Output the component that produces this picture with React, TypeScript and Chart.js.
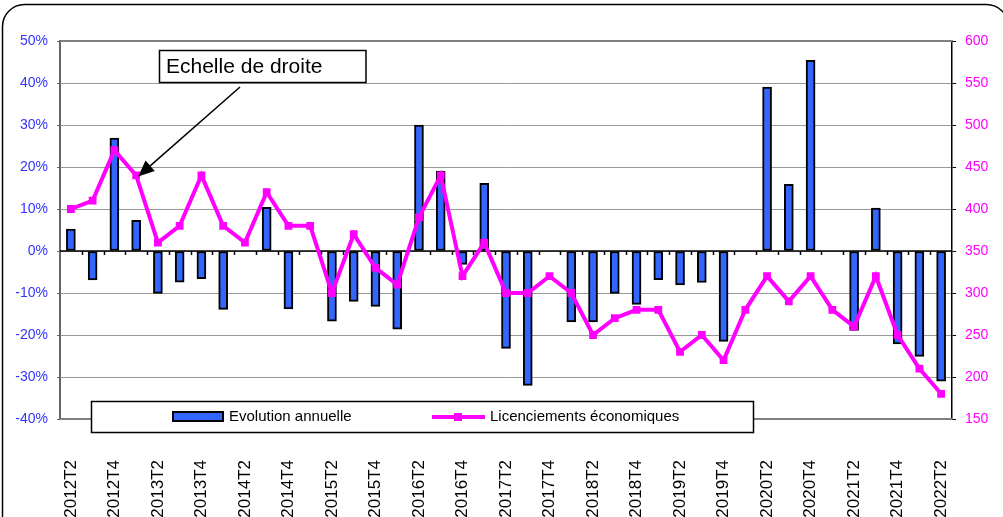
import { useEffect, useRef } from 'react';
import { Chart, registerables } from 'chart.js';

Chart.register(...registerables);

const categories = [
  '2012T2', '2012T3', '2012T4', '2013T1', '2013T2', '2013T3', '2013T4', '2014T1',
  '2014T2', '2014T3', '2014T4', '2015T1', '2015T2', '2015T3', '2015T4', '2016T1',
  '2016T2', '2016T3', '2016T4', '2017T1', '2017T2', '2017T3', '2017T4', '2018T1',
  '2018T2', '2018T3', '2018T4', '2019T1', '2019T2', '2019T3', '2019T4', '2020T1',
  '2020T2', '2020T3', '2020T4', '2021T1', '2021T2', '2021T3', '2021T4', '2022T1',
  '2022T2',
];

// Evolution annuelle (%), left axis
const evolutionAnnuelle = [
  5.2, -6.9, 26.9, 7.3, -10.1, -7.4, -6.6, -13.9,
  0, 10.4, -13.8, 0, -16.7, -12.0, -13.2, -18.6,
  30.0, 19.0, -3.2, 16.1, -23.2, -32.0, 0, -16.9,
  -16.9, -10.1, -12.7, -6.8, -8.1, -7.5, -21.5, 0,
  39.0, 15.9, 45.4, 0, -18.9, 10.2, -22.1, -25.1,
  -31.0,
];

// Licenciements économiques, right axis
const licenciements = [
  400, 410, 470, 440, 360, 380, 440, 380,
  360, 420, 380, 380, 300, 370, 330, 310,
  390, 440, 320, 360, 300, 300, 320, 300,
  250, 270, 280, 280, 230, 250, 220, 280,
  320, 290, 320, 280, 260, 320, 250, 210,
  180,
];

const leftAxis = { min: -40, max: 50, step: 10 };
const rightAxis = { min: 150, max: 600, step: 50 };

const seriesNames = ['Evolution annuelle', 'Licenciements économiques'];
const annotationText = 'Echelle de droite';

const FONT = 'Arial, "Liberation Sans", sans-serif';
const BLUE = '#3366FF';
const MAGENTA = '#FF00FF';

const decorPlugin = {
  id: 'decor',
  beforeDraw(chart: any) {
    const ctx = chart.ctx;
    ctx.save();
    ctx.fillStyle = '#ffffff';
    ctx.fillRect(0, 0, chart.width, chart.height);
    ctx.beginPath();
    ctx.roundRect(2.5, 4.5, 1006, 540, 22);
    ctx.strokeStyle = '#000';
    ctx.lineWidth = 1.5;
    ctx.stroke();
    ctx.restore();
  },
  beforeDatasetsDraw(chart: any) {
    const { ctx, chartArea: a, scales } = chart;
    ctx.save();
    ctx.strokeStyle = '#808080';
    ctx.lineWidth = 2;
    ctx.beginPath();
    ctx.moveTo(a.left, a.top);
    ctx.lineTo(a.right, a.top);
    ctx.moveTo(a.left, a.bottom);
    ctx.lineTo(a.right, a.bottom);
    ctx.stroke();
    const y0 = scales.y.getPixelForValue(0);
    ctx.strokeStyle = '#000';
    ctx.lineWidth = 1.5;
    ctx.beginPath();
    ctx.moveTo(a.left, y0);
    ctx.lineTo(a.right, y0);
    const n = categories.length;
    const w = (a.right - a.left) / n;
    for (let k = 1; k < n; k++) {
      const x = Math.round(a.left + k * w) + 0.5;
      ctx.moveTo(x, y0);
      ctx.lineTo(x, y0 + 4);
    }
    ctx.stroke();
    ctx.restore();
  },
  afterDatasetsDraw(chart: any) {
    const { ctx, scales } = chart;
    ctx.save();
    // Legend box
    ctx.fillStyle = '#fff';
    ctx.fillRect(91.5, 401.5, 662, 31);
    ctx.strokeStyle = '#000';
    ctx.lineWidth = 1.5;
    ctx.strokeRect(91.5, 401.5, 662, 31);
    // bar swatch
    ctx.fillStyle = BLUE;
    ctx.fillRect(173, 412, 50, 9);
    ctx.lineWidth = 2;
    ctx.strokeRect(173, 412, 50, 9);
    ctx.fillStyle = '#000';
    ctx.font = `15px ${FONT}`;
    ctx.textBaseline = 'middle';
    ctx.textAlign = 'left';
    ctx.fillText(seriesNames[0], 229, 417);
    // line swatch
    ctx.strokeStyle = MAGENTA;
    ctx.lineWidth = 4;
    ctx.beginPath();
    ctx.moveTo(432, 417);
    ctx.lineTo(485, 417);
    ctx.stroke();
    ctx.fillStyle = MAGENTA;
    ctx.fillRect(454, 413, 8, 8);
    ctx.fillStyle = '#000';
    ctx.fillText(seriesNames[1], 490, 417);

    // Annotation
    ctx.fillStyle = '#fff';
    ctx.fillRect(159.5, 50.5, 206.5, 32);
    ctx.strokeStyle = '#000';
    ctx.lineWidth = 1.5;
    ctx.strokeRect(159.5, 50.5, 206.5, 32);
    ctx.fillStyle = '#000';
    ctx.font = `21px ${FONT}`;
    ctx.fillText(annotationText, 166, 67);
    // Arrow
    const tipX = scales.x.getPixelForValue(3) + 2;
    const tipY = scales.y1.getPixelForValue(licenciements[3]) + 1;
    const sx = 240, sy = 87;
    const ang = Math.atan2(tipY - sy, tipX - sx);
    const hl = 16, hw = 7;
    const bx = tipX - hl * Math.cos(ang);
    const by = tipY - hl * Math.sin(ang);
    ctx.lineWidth = 1.5;
    ctx.beginPath();
    ctx.moveTo(sx, sy);
    ctx.lineTo(bx, by);
    ctx.stroke();
    ctx.beginPath();
    ctx.moveTo(tipX, tipY);
    ctx.lineTo(bx + hw * Math.sin(ang), by - hw * Math.cos(ang));
    ctx.lineTo(bx - hw * Math.sin(ang), by + hw * Math.cos(ang));
    ctx.closePath();
    ctx.fill();
    ctx.restore();
  },
};

export default function App() {
  const canvasRef = useRef<HTMLCanvasElement | null>(null);

  useEffect(() => {
    const canvas = canvasRef.current;
    if (!canvas) return;
    const chart = new Chart(canvas, {
      data: {
        labels: categories,
        datasets: [
          {
            type: 'line',
            label: seriesNames[1],
            data: licenciements,
            yAxisID: 'y1',
            order: 0,
            borderColor: MAGENTA,
            backgroundColor: MAGENTA,
            borderWidth: 4,
            tension: 0,
            pointStyle: 'rect',
            pointRadius: 5.5,
            pointBorderWidth: 0,
            pointBackgroundColor: MAGENTA,
          },
          {
            type: 'bar',
            label: seriesNames[0],
            data: evolutionAnnuelle,
            yAxisID: 'y',
            order: 1,
            backgroundColor: BLUE,
            borderColor: '#000',
            borderWidth: 2,
            borderSkipped: false,
            barThickness: 9,
          },
        ],
      } as any,
      options: {
        animation: false,
        responsive: false,
        maintainAspectRatio: false,
        layout: { padding: { top: 41, left: 0, right: 0, bottom: 0 } },
        plugins: {
          legend: { display: false },
          tooltip: { enabled: false },
          title: { display: false },
        },
        scales: {
          x: {
            type: 'category',
            offset: true,
            grid: { display: false, drawTicks: false },
            border: { display: false },
            ticks: {
              autoSkip: false,
              maxRotation: 90,
              minRotation: 90,
              padding: 41,
              color: '#000',
              font: { family: FONT, size: 17 },
              callback: (_v: any, i: number) => (i % 2 === 0 ? categories[i] : ''),
            },
            afterFit: (s: any) => {
              s.height = 98;
            },
          },
          y: {
            position: 'left',
            min: leftAxis.min,
            max: leftAxis.max,
            ticks: {
              stepSize: leftAxis.step,
              color: '#3333FF',
              font: { family: FONT, size: 14 },
              padding: 9,
              callback: (v: any) => `${v}%`,
            },
            grid: { color: '#999', tickColor: '#666', tickLength: 3, lineWidth: 1 },
            border: { color: '#666', width: 2 },
            afterFit: (s: any) => {
              s.width = 60;
            },
          },
          y1: {
            position: 'right',
            min: rightAxis.min,
            max: rightAxis.max,
            ticks: {
              stepSize: rightAxis.step,
              color: MAGENTA,
              font: { family: FONT, size: 14 },
              padding: 9,
            },
            grid: { drawOnChartArea: false, tickColor: '#000', tickLength: 4 },
            border: { color: '#000', width: 1.5 },
            afterFit: (s: any) => {
              s.width = 39;
            },
          },
        },
      } as any,
      plugins: [decorPlugin],
    });
    return () => chart.destroy();
  }, []);

  return (
    <div style={{ position: 'fixed', left: 0, top: 0, width: 1003, height: 517, background: '#fff' }}>
      <canvas ref={canvasRef} width={1003} height={517} style={{ width: 1003, height: 517, display: 'block' }} />
    </div>
  );
}
